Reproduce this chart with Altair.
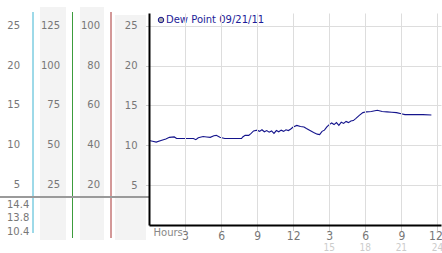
import altair as alt
import pandas as pd

# ---- data ----
hours = [0, 0.3, 0.6, 1.0, 1.4, 1.7, 2.1, 2.3, 2.8, 3.3, 3.7, 3.9, 4.1, 4.5, 4.8,
         5.1, 5.4, 5.6, 5.9, 6.3, 6.8, 7.3, 7.7, 7.8, 8.0, 8.3, 8.5, 8.7, 9.0, 9.2,
         9.4, 9.6, 9.8, 10.0, 10.2, 10.4, 10.6, 10.8, 11.0, 11.2, 11.4, 11.6, 11.8,
         12.0, 12.3, 12.6, 12.9, 13.1, 13.4, 13.7, 14.0, 14.2, 14.4, 14.6, 14.8,
         15.0, 15.2, 15.4, 15.6, 15.8, 16.0, 16.2, 16.4, 16.6, 16.8, 17.0, 17.2,
         17.5, 17.8, 18.1, 18.5, 19.0, 19.4, 19.8, 20.2, 20.6, 21.0, 21.3, 22.0,
         22.8, 23.5]
dew = [10.6, 10.5, 10.4, 10.6, 10.8, 11.0, 11.05, 10.85, 10.85, 10.85, 10.85, 10.7,
       10.95, 11.1, 11.05, 11.0, 11.2, 11.25, 11.0, 10.85, 10.85, 10.85, 10.85, 11.05,
       11.25, 11.25, 11.5, 11.8, 11.9, 11.75, 11.95, 11.7, 11.85, 11.65, 11.8, 11.5,
       11.85, 11.7, 11.9, 11.75, 11.95, 11.85, 12.05, 12.3, 12.5, 12.35, 12.3, 12.1,
       11.85, 11.6, 11.4, 11.35, 11.75, 11.9, 12.3, 12.6, 12.8, 12.6, 12.85, 12.5,
       12.9, 12.75, 13.0, 12.85, 13.05, 13.1, 13.35, 13.75, 14.1, 14.2, 14.25, 14.4,
       14.25, 14.2, 14.15, 14.1, 13.95, 13.85, 13.85, 13.85, 13.8]
series_name = "Dew Point 09/21/11"
y_ticks = [5, 10, 15, 20, 25]
col1_labels = [5, 10, 15, 20, 25]
col2_labels = [25, 50, 75, 100, 125]
col3_labels = [20, 40, 60, 80, 100]
x_ticks = [3, 6, 9, 12, 15, 18, 21, 24]
pm_labels = [15, 18, 21, 24]

df = pd.DataFrame({"hour": hours, "dew": dew, "series": series_name})
ticks_df = pd.DataFrame({"tick": y_ticks, "c1": col1_labels,
                         "c2": col2_labels, "c3": col3_labels})
pm_df = pd.DataFrame({"h": pm_labels})
one = pd.DataFrame({"k": [0]})

xs = alt.Scale(domain=[0, 24.3], nice=False, zero=False)
ys = alt.Scale(domain=[0, 26.6], nice=False)
FONT = "DejaVu Sans"
NARROW = "Liberation Sans Narrow, DejaVu Sans Condensed, sans-serif"
GREY_TXT = "#777777"


def bg(x, x2, y, y2):
    return alt.Chart(one).mark_rect(color="#f3f3f3").encode(
        x=alt.value(x), x2=alt.value(x2), y=alt.value(y), y2=alt.value(y2))


def vrule(x, y, y2, color):
    return alt.Chart(one).mark_rule(color=color, strokeWidth=1).encode(
        x=alt.value(x), y=alt.value(y), y2=alt.value(y2))


backs = [bg(-109, -83, -6, 227), bg(-69, -45, -6, 227), bg(-34, -3, 2, 227)]
rules = [vrule(-116, -1, 220, "#3cb4d2"), vrule(-76.5, -1, 225, "#3c9c3c"),
         vrule(-38, -1, 225, "#a83232")]
hline = alt.Chart(one).mark_rule(color="#9a9a9a", strokeWidth=2).encode(
    x=alt.value(-149), x2=alt.value(0), y=alt.value(184))


def col_text(field, xpos):
    return alt.Chart(ticks_df).mark_text(
        align="right", baseline="middle", color=GREY_TXT, fontSize=10, font=FONT
    ).encode(x=alt.value(xpos), y=alt.Y("tick:Q", scale=ys), text=f"{field}:Q")


cols = [col_text("c1", -129), col_text("c2", -89), col_text("c3", -49)]

stat_style = dict(align="left", baseline="middle", color=GREY_TXT, fontSize=10, font=FONT)
max_txt = alt.Chart(df).transform_aggregate(vmax="max(dew)").mark_text(**stat_style).encode(
    x=alt.value(-142), y=alt.value(192), text=alt.Text("vmax:Q", format=".1f"))
last_txt = alt.Chart(df).transform_aggregate(alast="argmax(hour)").transform_calculate(
    vlast="datum.alast.dew").mark_text(**stat_style).encode(
    x=alt.value(-142), y=alt.value(205.3), text=alt.Text("vlast:Q", format=".1f"))
min_txt = alt.Chart(df).transform_aggregate(vmin="min(dew)").mark_text(**stat_style).encode(
    x=alt.value(-142), y=alt.value(218.7), text=alt.Text("vmin:Q", format=".1f"))

pm_txt = alt.Chart(pm_df).mark_text(
    color="#cccccc", fontSize=10, font=NARROW, baseline="middle"
).encode(x=alt.X("h:Q", scale=xs), y=alt.value(234.5), text="h:Q")

line = alt.Chart(df).mark_line(strokeWidth=1.1).encode(
    x=alt.X("hour:Q", scale=xs, axis=alt.Axis(
        values=x_ticks, grid=True, gridColor="#dddddd", domainColor="black",
        domainWidth=2, tickSize=5, tickColor="#999999", tickDash=[1, 1],
        labelPadding=0, labelColor=GREY_TXT, labelFontSize=12, labelFont=NARROW,
        labelExpr="datum.value % 12 == 0 ? '12' : '' + (datum.value % 12)",
        labelOffset={"condition": {"test": "datum.value == 24", "value": -2}, "value": 0},
        labelFlush=False, labelOverlap=False, labelBound=False,
        title="Hours", titleX=4, titleY=7, titleAlign="left", titleAnchor="start",
        titleBaseline="middle", titleFontWeight="normal", titleColor="#888888",
        titleFontSize=10, titleFont=FONT, zindex=1)),
    y=alt.Y("dew:Q", scale=ys, axis=alt.Axis(
        values=y_ticks, grid=True, gridColor="#dddddd", domainColor="black",
        domainWidth=2, tickSize=4, tickColor="#999999", tickDash=[1, 1],
        labelPadding=8, labelColor=GREY_TXT, labelFontSize=10, labelFont=FONT,
        title=None, zindex=1)),
    color=alt.Color("series:N", scale=alt.Scale(range=["#14148c"]), legend=alt.Legend(
        orient="none", legendX=7, legendY=2, title=None, symbolType="circle",
        symbolSize=30, labelColor="#1c1c98", labelFontSize=10, labelFont=FONT,
        labelOffset=0, padding=0, symbolFillColor="#b0b0b0",
        symbolStrokeColor="#888888", symbolStrokeWidth=1)),
)

chart = alt.layer(*backs, *rules, hline, *cols, max_txt, last_txt, min_txt,
                  pm_txt, line).properties(
    width=292, height=212,
    autosize=alt.AutoSizeParams(type="none"),
    padding={"left": 149, "top": 13, "right": 1, "bottom": 28},
    background="white",
).configure_view(stroke=None)

chart.save("out.html", embed_options={"renderer": "svg", "actions": False})
